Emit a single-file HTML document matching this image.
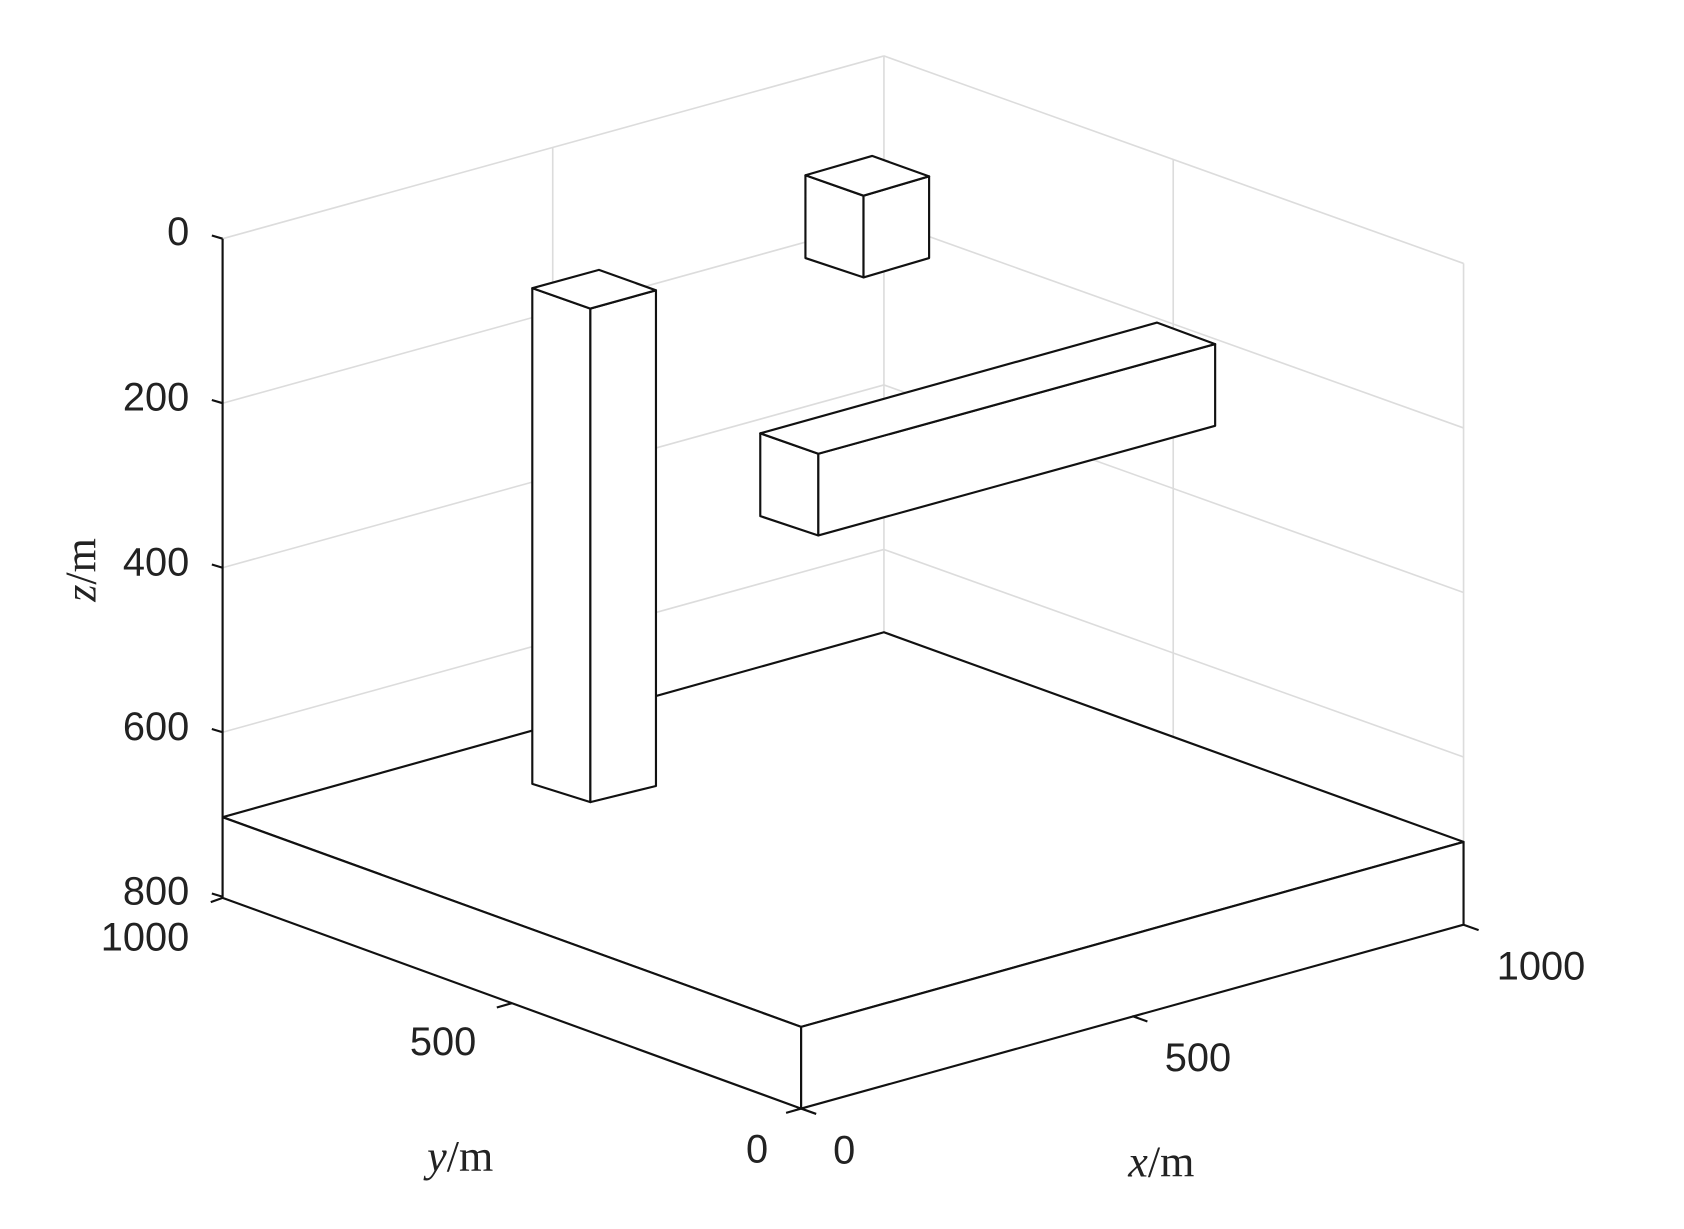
<!DOCTYPE html>
<html><head><meta charset="utf-8"><style>
html,body{margin:0;padding:0;background:#fff;}
svg{display:block;}
.t{font-family:"Liberation Sans",sans-serif;font-size:37px;fill:#222;}
.l{font-family:"Liberation Serif",serif;font-size:41px;fill:#222;}
</style></head><body>
<svg width="1684" height="1229" viewBox="0 0 1566 1143" preserveAspectRatio="none" xmlns="http://www.w3.org/2000/svg">
<rect width="1566" height="1143" fill="#fff"/>
<g stroke="#dcdcdc" stroke-width="1.5" fill="none">
<line x1="207" y1="222" x2="822" y2="52"/>
<line x1="207" y1="375" x2="822" y2="205"/>
<line x1="207" y1="528" x2="822" y2="358"/>
<line x1="207" y1="681" x2="822" y2="511"/>
<line x1="822" y1="52" x2="1361" y2="245"/>
<line x1="822" y1="205" x2="1361" y2="398"/>
<line x1="822" y1="358" x2="1361" y2="551"/>
<line x1="822" y1="511" x2="1361" y2="704"/>
<line x1="514" y1="137" x2="514" y2="675"/>
<line x1="822" y1="52" x2="822" y2="588"/>
<line x1="1091" y1="148" x2="1091" y2="686"/>
<line x1="1361" y1="245" x2="1361" y2="783"/>
</g>
<g stroke="#111" stroke-width="2" fill="#fff" stroke-linejoin="round">
<line x1="207" y1="222" x2="207" y2="835"/>
<line x1="207" y1="222" x2="197" y2="219"/>
<line x1="207" y1="375" x2="197" y2="372"/>
<line x1="207" y1="528" x2="197" y2="525"/>
<line x1="207" y1="681" x2="197" y2="678"/>
<line x1="207" y1="834" x2="197" y2="831"/>
<polygon points="207,760 822,588 1361,783 745,955"/>
<polygon points="207,760 207,835 745,1031 745,955"/>
<polygon points="745,955 1361,783 1361,860 745,1031"/>
<line x1="745" y1="1031" x2="731" y2="1035"/>
<line x1="745" y1="1031" x2="759" y2="1036"/>
<line x1="207" y1="835" x2="196" y2="839"/>
<line x1="1361" y1="860" x2="1375" y2="865"/>
<line x1="476" y1="933" x2="462" y2="937"/>
<line x1="1053" y1="945" x2="1067" y2="950"/>
<polygon points="495,268 549,287 549,746 495,729"/>
<polygon points="549,287 610,270 610,731 549,746"/>
<polygon points="495,268 557,251 610,270 549,287"/>
<polygon points="749,163 803,182 803,258 749,240"/>
<polygon points="803,182 864,164 864,240 803,258"/>
<polygon points="749,163 811,145 864,164 803,182"/>
<polygon points="707,403 761,422 761,498 707,480"/>
<polygon points="761,422 1130,320 1130,396 761,498"/>
<polygon points="707,403 1076,300 1130,320 761,422"/>
</g>
<g class="t" text-anchor="end">
<text x="176" y="228">0</text>
<text x="176" y="382">200</text>
<text x="176" y="535">400</text>
<text x="176" y="688">600</text>
<text x="176" y="841">800</text>
<text x="176" y="884">1000</text>
</g>
<g class="t" text-anchor="middle">
<text x="412" y="981">500</text>
<text x="704" y="1081">0</text>
<text x="785" y="1082">0</text>
<text x="1114" y="996">500</text>
<text x="1433" y="911">1000</text>
</g>
<text class="l" x="428" y="1089" text-anchor="middle"><tspan font-style="italic">y</tspan>/m</text>
<text class="l" x="1080" y="1094" text-anchor="middle"><tspan font-style="italic">x</tspan>/m</text>
<text class="l" transform="translate(89,530) rotate(-90)" text-anchor="middle"><tspan font-style="italic">z</tspan>/m</text>
</svg>
</body></html>
